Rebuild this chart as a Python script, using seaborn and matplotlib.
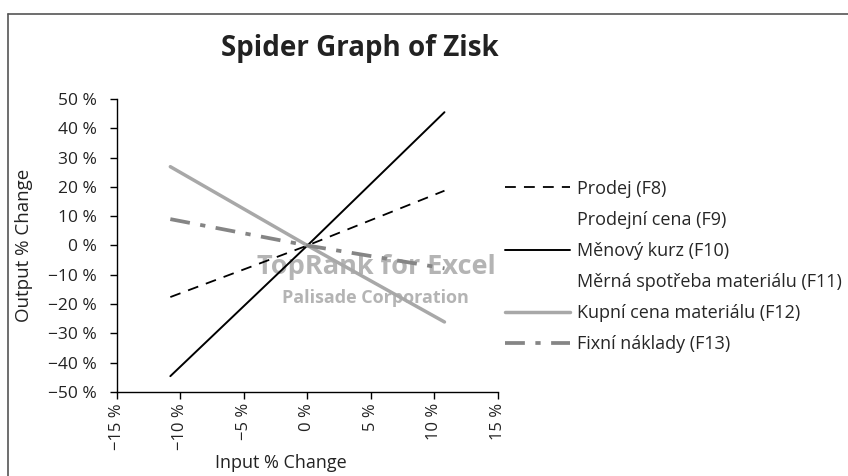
import matplotlib
matplotlib.use("Agg")
import matplotlib.pyplot as plt
from matplotlib.lines import Line2D
from matplotlib.ticker import FuncFormatter
import pandas as pd
import seaborn as sns

# input % change at the ends of each spider line
input_change = [-10.8, 0.0, 10.8]

prodej = [-17.6, 0.0, 18.7]
menovy_kurz = [-44.6, 0.0, 45.5]
kupni_cena = [26.9, 0.0, -26.1]
fixni_naklady = [9.0, 0.0, -7.8]

legend_labels = ["Prodej (F8)", "Prodejní cena (F9)", "Měnový kurz (F10)",
                 "Měrná spotřeba materiálu (F11)", "Kupní cena materiálu (F12)",
                 "Fixní náklady (F13)"]

x_ticks = [-15, -10, -5, 0, 5, 10, 15]
y_ticks = [-50, -40, -30, -20, -10, 0, 10, 20, 30, 40, 50]

sns.set_theme(style="white")
plt.rcParams["font.family"] = ["Open Sans", "DejaVu Sans"]

fig = plt.figure(figsize=(8.48, 4.76), dpi=100)
ax = fig.add_axes([0.138, 0.1765, 0.449, 0.6155])

styles = [
    (prodej, dict(color="black", lw=1.3, linestyle=(0, (6, 4.5)))),
    (menovy_kurz, dict(color="black", lw=1.4, linestyle="-")),
    (kupni_cena, dict(color="#a8a8a8", lw=2.5, linestyle="-")),
    (fixni_naklady, dict(color="#858585", lw=2.7, linestyle=(0, (5.3, 2.8, 1.4, 2.8)))),
]
for vals, kw in styles:
    df = pd.DataFrame({"x": input_change, "y": vals})
    sns.lineplot(data=df, x="x", y="y", ax=ax, legend=False, zorder=3, **kw)

drawn = ax.get_lines()
handles = [drawn[0], Line2D([], [], color="none"), drawn[1],
           Line2D([], [], color="none"), drawn[2], drawn[3]]
ax.legend(handles, legend_labels, loc="upper left", bbox_to_anchor=(1.018, 0.725),
          frameon=False, fontsize=13, handlelength=3.6, handletextpad=0.42,
          labelspacing=0.73, borderpad=0, borderaxespad=0)

ax.set_xlim(-15, 15)
ax.set_ylim(-50, 50)
ax.set_xticks(x_ticks)
ax.set_yticks(y_ticks)
fmt = FuncFormatter(lambda v, p: f"{v:.0f} %".replace("-", "\u2212"))
ax.xaxis.set_major_formatter(fmt)
ax.yaxis.set_major_formatter(fmt)
ax.tick_params(axis="both", which="major", direction="out", length=5, width=1,
               color="black", labelsize=12, labelcolor="#222222",
               bottom=True, left=True)
ax.tick_params(axis="y", pad=9.5, labelsize=12.5)
ax.tick_params(axis="x", labelrotation=90, pad=3)
for s in ["top", "right"]:
    ax.spines[s].set_visible(False)
for s in ["left", "bottom"]:
    ax.spines[s].set_color("black")
    ax.spines[s].set_linewidth(1)

ax.set_xlabel("Input % Change", fontsize=13, color="#222222")
ax.set_ylabel("Output % Change", fontsize=13.5, color="#222222")
ax.xaxis.set_label_coords(0.43, -0.212)
ax.yaxis.set_label_coords(-0.22, 0.5)

fig.text(0.4245, 0.899, "Spider Graph of Zisk", ha="center", va="center",
         fontsize=20, fontweight="bold", color="#222222")

# watermark, kept under the lines
ax.text(376 / 848, 1 - 267 / 476, "TopRank for Excel", transform=fig.transFigure,
        ha="center", va="center", fontsize=19.5, fontweight="bold",
        color="#b4b4b4", zorder=1)
ax.text(375 / 848, 1 - 298 / 476, "Palisade Corporation", transform=fig.transFigure,
        ha="center", va="center", fontsize=13, fontweight="bold",
        color="#b4b4b4", zorder=1)

# page frame
fig.add_artist(Line2D([8 / 848, 1.0], [1 - 14 / 476] * 2, color="#555555", lw=1.2))
fig.add_artist(Line2D([8 / 848] * 2, [0.0, 1 - 14 / 476], color="#555555", lw=1.2))

fig.savefig("out.png", dpi=100)
